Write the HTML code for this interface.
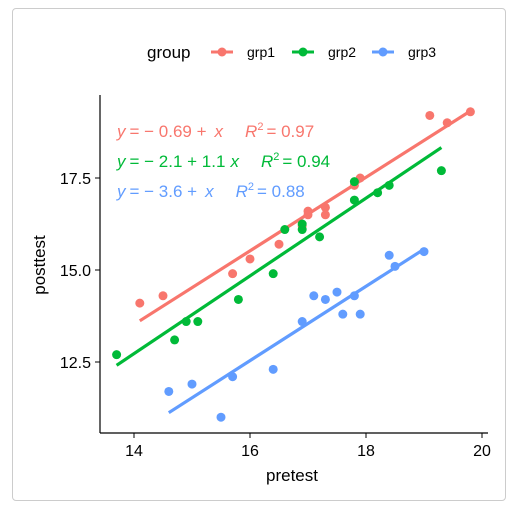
<!DOCTYPE html>
<html><head><meta charset="utf-8"><style>
body{margin:0;background:#fff;width:521px;height:512px;overflow:hidden;font-family:"Liberation Sans",sans-serif}
#card{position:absolute;left:12px;top:8px;width:494px;height:493px;border:1px solid #ccc;border-radius:4px;box-sizing:border-box}
</style></head><body>
<div id="card"></div>
<svg id="chart" width="521" height="512" style="position:absolute;left:0;top:0">
<g id="legend">
<text x="147" y="58" font-size="17" fill="#000">group</text>
</g>
<g id="axes"></g><g id="marks"></g>
<text x="292" y="481" font-size="17" text-anchor="middle">pretest</text>
<text transform="translate(45,265) rotate(-90)" font-size="17" text-anchor="middle">posttest</text>
<g font-size="17">
<text x="117" y="137" fill="#F8766D"><tspan font-style="italic">y</tspan><tspan dx="4">= − 0.69 +</tspan><tspan dx="8" font-style="italic">x</tspan><tspan dx="22" font-style="italic">R</tspan><tspan font-size="11" dy="-7">2</tspan><tspan dy="7" dx="3">= 0.97</tspan></text>
<text x="117" y="167" fill="#00BA38"><tspan font-style="italic">y</tspan><tspan dx="4">= − 2.1 + 1.1</tspan><tspan dx="5" font-style="italic">x</tspan><tspan dx="22" font-style="italic">R</tspan><tspan font-size="11" dy="-7">2</tspan><tspan dy="7" dx="3">= 0.94</tspan></text>
<text x="117" y="197" fill="#619CFF"><tspan font-style="italic">y</tspan><tspan dx="4">= − 3.6 +</tspan><tspan dx="8" font-style="italic">x</tspan><tspan dx="22" font-style="italic">R</tspan><tspan font-size="11" dy="-7">2</tspan><tspan dy="7" dx="3">= 0.88</tspan></text>
</g>
</svg>
<script>
const groups=['grp1','grp2','grp3'];
const colors=['#F8766D','#00BA38','#619CFF'];
const xTicks=[14,16,18,20];
const yTicks=[12.5,15.0,17.5];
const grp1X=[14.1,14.5,15.7,16.0,16.5,16.9,17.0,17.0,17.3,17.3,17.8,17.9,19.1,19.4,19.8];
const grp1Y=[14.1,14.3,14.9,15.3,15.7,16.2,16.5,16.6,16.5,16.7,17.3,17.5,19.2,19.0,19.3];
const grp2X=[13.7,14.7,14.9,15.1,15.8,16.4,16.6,16.9,16.9,17.2,17.8,17.8,18.2,18.4,19.3];
const grp2Y=[12.7,13.1,13.6,13.6,14.2,14.9,16.1,16.25,16.1,15.9,17.4,16.9,17.1,17.3,17.7];
const grp3X=[14.6,15.0,15.5,15.7,16.4,16.9,17.1,17.3,17.5,17.6,17.8,17.9,18.4,18.5,19.0];
const grp3Y=[11.7,11.9,11.0,12.1,12.3,13.6,14.3,14.2,14.4,13.8,14.3,13.8,15.4,15.1,15.5];
const X=v=>134+(v-14)*58, Y=v=>270-(v-15)*36.8;
const NS='http://www.w3.org/2000/svg';
function mk(tag,attrs,parent){const e=document.createElementNS(NS,tag);for(const k in attrs)e.setAttribute(k,attrs[k]);parent.appendChild(e);return e;}
const axes=document.getElementById('axes'),marks=document.getElementById('marks'),legend=document.getElementById('legend');
let a=mk('line',{x1:100,y1:95,x2:100,y2:433,stroke:'#000','stroke-width':1.2},axes);


a=mk('line',{x1:100,y1:433,x2:488,y2:433,stroke:'#000','stroke-width':1.2},axes);


xTicks.forEach(t=>{
 const l=mk('line',{x1:X(t),y1:433,x2:X(t),y2:438,stroke:'#000'},axes);
 
 
 const tx=mk('text',{x:X(t),y:456,'font-size':16,'text-anchor':'middle',fill:'#000'},axes);tx.textContent=t;
 
 
});
yTicks.forEach(t=>{
 const l=mk('line',{x1:95,y1:Y(t),x2:100,y2:Y(t),stroke:'#000'},axes);
 
 
 const tx=mk('text',{x:91,y:Y(t)+6,'font-size':16,'text-anchor':'end',fill:'#000'},axes);tx.textContent=t.toFixed(1);
 
 
});
const data=[[grp1X,grp1Y],[grp2X,grp2Y],[grp3X,grp3Y]];
data.forEach(([xs,ys],g)=>{
 const n=xs.length,mx=xs.reduce((a,b)=>a+b)/n,my=ys.reduce((a,b)=>a+b)/n;
 let sxy=0,sxx=0;for(let i=0;i<n;i++){sxy+=(xs[i]-mx)*(ys[i]-my);sxx+=(xs[i]-mx)**2;}
 const b=sxy/sxx,c=my-b*mx,x0=Math.min(...xs),x1=Math.max(...xs);
 const ln=mk('line',{x1:X(x0),y1:Y(c+b*x0),x2:X(x1),y2:Y(c+b*x1),stroke:colors[g],'stroke-width':3.2},marks);
 
 
 xs.forEach((x,i)=>{
  const p=mk('circle',{cx:X(x),cy:Y(ys[i]),r:4.5,fill:colors[g]},marks);
  
  
 });
 const kx=[211,292,372][g];
 const kl=mk('line',{x1:kx,y1:52,x2:kx+22,y2:52,stroke:colors[g],'stroke-width':3},legend);
 
 
 const kc=mk('circle',{cx:kx+11,cy:52,r:4.5,fill:colors[g]},legend);
 
 
 const kt=mk('text',{x:kx+36,y:57,'font-size':14,fill:'#000'},legend);kt.textContent=groups[g];
 
 
});
</script>
</body></html>
